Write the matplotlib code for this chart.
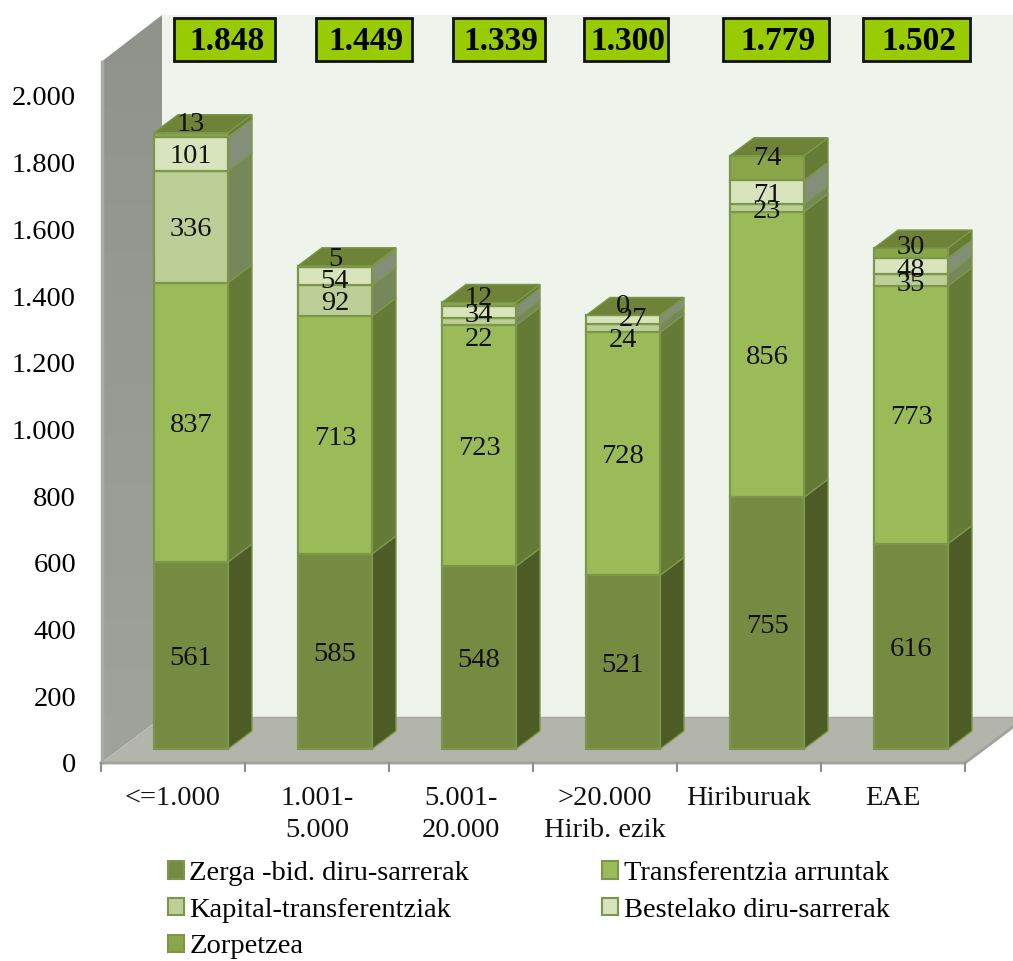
import numpy as np
import matplotlib
matplotlib.use('Agg')
import matplotlib.pyplot as plt
from matplotlib.patches import Polygon, Patch

plt.rcParams['font.family'] = ['Liberation Serif', 'DejaVu Serif']

categories = ['<=1.000', '1.001-\n5.000', '5.001-\n20.000', '>20.000\nHirib. ezik', 'Hiriburuak', 'EAE']
totals = ['1.848', '1.449', '1.339', '1.300', '1.779', '1.502']
series_names = ['Zerga -bid. diru-sarrerak', 'Transferentzia arruntak', 'Kapital-transferentziak',
                'Bestelako diru-sarrerak', 'Zorpetzea']
zerga = [561, 585, 548, 521, 755, 616]
transf = [837, 713, 723, 728, 856, 773]
kapital = [336, 92, 22, 24, 23, 35]
bestelako = [101, 54, 34, 27, 71, 48]
zorpetzea = [13, 5, 12, 0, 74, 30]
yticks = [0, 200, 400, 600, 800, 1000, 1200, 1400, 1600, 1800, 2000]
ytick_labels = ['0', '200', '400', '600', '800', '1.000', '1.200', '1.400', '1.600', '1.800', '2.000']

values = [zerga, transf, kapital, bestelako, zorpetzea]
front_cols = ['#768B42', '#9BBB59', '#BCCF96', '#D7E4BC', '#8BA648']
side_cols = ['#4D5C26', '#657A36', '#76875A', '#838F78', '#667C34']
edge_col = '#7C974A'

W, H = 1013, 961
PX_X = 144.0       # pixels per category
PX_Y = 667 / 2000  # pixels per value
X0, Y0 = 101, 763  # pixel of the origin
FS = 20.5

fig = plt.figure(figsize=(W / 100, H / 100), dpi=100)
ax = fig.add_axes([0, 0, 1, 1])
ax.set_xlim(-X0 / PX_X, (W - X0) / PX_X)
ax.set_ylim(-(H - Y0) / PX_Y, Y0 / PX_Y)
ax.axis('off')


def dx(px):
    return px / PX_X


def dy(px):
    return px / PX_Y


def px(x, y):
    # pixel position in image coordinates -> data
    return (x - X0) / PX_X, (Y0 - y) / PX_Y


# walls and floor
ax.add_patch(Polygon([px(162, 15), px(1013, 15), px(1013, 717), px(162, 717)], fc='#EEF3EC', ec='none', zorder=1))
grad = np.linspace(0, 1, 200).reshape(-1, 1)
wall = Polygon([px(101, 763), px(162, 717), px(162, 15), px(101, 62)], fc='none', ec='none', zorder=2)
ax.add_patch(wall)
cmap = matplotlib.colors.LinearSegmentedColormap.from_list('w', ['#8F938C', '#979B94', '#9FA39B'])
im = ax.imshow(grad, cmap=cmap, aspect='auto', zorder=2,
               extent=(dx(0), dx(61), dy(-0), dy(763 - 15)), origin='upper')
im.set_clip_path(wall)
ax.set_xlim(-X0 / PX_X, (W - X0) / PX_X)
ax.set_ylim(-(H - Y0) / PX_Y, Y0 / PX_Y)
ax.plot(*zip(px(102, 62), px(102, 762)), color='#A9ABA7', lw=2.5, zorder=3)
ax.add_patch(Polygon([px(101, 763), px(965, 763), px(1027, 717), px(162, 717)], fc='#B3B5AC', ec='none', zorder=3))
ax.plot(*zip(px(162, 717), px(1013, 717)), color='#A5A7A0', lw=1, zorder=3)
ax.plot(*zip(px(101, 763), px(965, 763), px(1013, 727)), color='#A0A29C', lw=2, zorder=4)

# axis ticks
for i in range(7):
    ax.plot([i, i], [0, dy(-8)], color='#8E908B', lw=1.5, zorder=4)
for v, lab in zip(yticks, ytick_labels):
    ax.text(dx(-25), v - dy(3), lab, ha='right', va='center', fontsize=FS, color='black')
for i, lab in enumerate(categories):
    ax.text(i + 0.5, dy(-23), lab, ha='center', va='top', fontsize=FS, color='#111111', linespacing=1.38)

# bars
bar_w = dx(74)
off_x, off_y = dx(18), dy(14)
depth_x, depth_y = dx(24), dy(18)
nudges = {
    (0, 4): (0, 13), (1, 4): (0, 10), (2, 4): (0, 9), (3, 4): (0, 12), (4, 4): (0, 13), (5, 4): (0, 9),
    (1, 3): (0, -2), (3, 3): (10, 3), (3, 2): (0, -9), (2, 2): (0, -15),
    (4, 2): (0, -1), (5, 3): (0, -1), (5, 2): (0, -2),
}
for i in range(6):
    x0 = i + (1 - 74 / 144) / 2 + off_x
    base = 0.0
    for s, vals in enumerate(values):
        v = vals[i]
        y0 = off_y + base
        y1 = y0 + v
        if v > 0:
            ax.add_patch(Polygon([(x0 + bar_w, y0), (x0 + bar_w + depth_x, y0 + depth_y),
                                  (x0 + bar_w + depth_x, y1 + depth_y), (x0 + bar_w, y1)],
                                 fc=side_cols[s], ec=edge_col, lw=1, zorder=5 + s))
            ax.add_patch(Polygon([(x0, y0), (x0 + bar_w, y0), (x0 + bar_w, y1), (x0, y1)],
                                 fc=front_cols[s], ec=edge_col, lw=1.6, zorder=5 + s))
        base += v
    top = off_y + base
    ax.add_patch(Polygon([(x0, top), (x0 + bar_w, top), (x0 + bar_w + depth_x, top + depth_y), (x0 + depth_x, top + depth_y)],
                         fc='#6E8238', ec=edge_col, lw=1, zorder=11))
    base = 0.0
    for s, vals in enumerate(values):
        v = vals[i]
        nx, ny = nudges.get((i, s), (0, 0))
        ax.annotate(str(v), (x0 + bar_w / 2, off_y + base + v / 2), xytext=(nx * 0.72, (ny - 3) * 0.72),
                    textcoords='offset points', ha='center', va='center', fontsize=FS, color='#111111', zorder=20)
        base += v

# totals on top
box_edges = [(174, 275), (316, 412), (453, 545), (584, 668), (723, 829), (863, 970)]
for (l, r), t in zip(box_edges, totals):
    xs, ys = zip(px(l, 61), px(r, 61), px(r, 18), px(l, 18))
    ax.add_patch(Polygon(list(zip(xs, ys)), fc='#99CC00', ec='#111111', lw=2, zorder=20))
    cx, cy = px((l + r) / 2 + 2, 41)
    ax.text(cx, cy, t, ha='center', va='center', fontsize=24, fontweight='bold', color='black', zorder=21)

# legend, column first
order = [0, 2, 4, 1, 3]
handles = [Patch(fc=front_cols[s], ec=edge_col, lw=1.5, label=series_names[s]) for s in order]
ax.legend(handles=handles, ncol=2, loc='upper left', bbox_to_anchor=(168 / W, 1 - 861 / H),
          frameon=False, fontsize=FS, handlelength=0.55, handleheight=0.55, handletextpad=0.2,
          labelspacing=0.41, columnspacing=4.67, borderpad=0, borderaxespad=0)

fig.savefig('out.png', dpi=100)
